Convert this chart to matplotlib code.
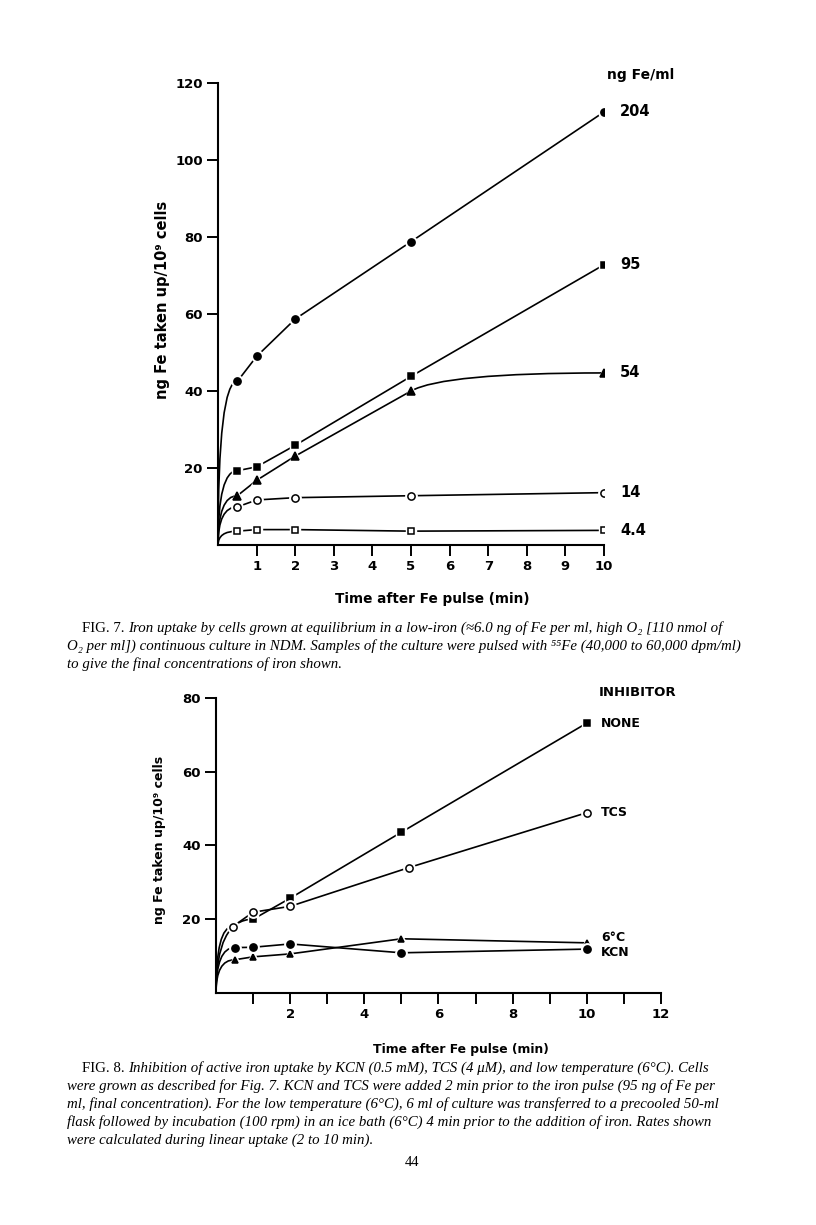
import matplotlib
matplotlib.use("Agg")
import matplotlib.pyplot as plt
from matplotlib.path import Path
from matplotlib.patches import PathPatch

# ---- Fig. 7 data: iron uptake at different pulse concentrations ----
fig7_time = [0.5, 1, 2, 5, 10]
fig7_labels = ["204", "95", "54", "14", "4.4"]
fe_204 = [42.5, 49.0, 58.7, 78.8, 112.5]
fe_95 = [19.3, 20.3, 25.9, 43.8, 72.8]
fe_54 = [12.8, 16.8, 23.1, 40.0, 44.7]
fe_14 = [9.9, 11.7, 12.3, 12.8, 13.6]
fe_4_4 = [3.6, 4.0, 4.0, 3.6, 3.8]

# ---- Fig. 8 data: inhibitors ----
none_time = [1, 2, 5, 10]
none_vals = [20.0, 25.7, 43.6, 73.2]
tcs_time = [0.45, 1, 2, 5.2, 10]
tcs_vals = [18.0, 21.9, 23.5, 34.0, 48.9]
cold_time = [0.5, 1, 2, 5, 10]
cold_vals = [9.0, 9.8, 10.6, 14.7, 13.6]
kcn_time = [0.5, 1, 2, 5, 10]
kcn_vals = [12.3, 12.4, 13.3, 10.9, 11.9]

BOLD = dict(family="DejaVu Sans", fontweight="bold")
SERIF = ["Liberation Serif", "DejaVu Serif"]


def draw_series(ax, x, y, marker, filled, ms=5, smooth_end=False):
    # hand drawn look: curve from the origin up to the first point
    verts = [(0, 0), (0, y[0]), (x[0], y[0])]
    codes = [Path.MOVETO, Path.CURVE3, Path.CURVE3]
    n = len(x)
    last = n - 1 if smooth_end else n
    for i in range(1, last):
        verts.append((x[i], y[i]))
        codes.append(Path.LINETO)
    if smooth_end:
        slope = (y[-2] - y[-3]) / (x[-2] - x[-3])
        cx = x[-2] + (y[-1] - y[-2]) / slope
        verts += [(cx, y[-1]), (x[-1], y[-1])]
        codes += [Path.CURVE3, Path.CURVE3]
    ax.add_patch(PathPatch(Path(verts, codes), fill=False, lw=1.2, color="black"))
    ax.plot(x, y, ls="none", marker=marker, ms=ms + 3, mfc="white", mec="white")
    ax.plot(x, y, ls="none", marker=marker, ms=ms,
            mfc="black" if filled else "white", mec="black", mew=1.1)


def style_axes(ax, fs):
    for s in ["top", "right"]:
        ax.spines[s].set_visible(False)
    for s in ["left", "bottom"]:
        ax.spines[s].set_linewidth(1.5)
    ax.tick_params(which="both", direction="out", length=8, width=1.4, pad=3)
    for lab in ax.get_xticklabels() + ax.get_yticklabels():
        lab.set_fontweight("bold")
        lab.set_fontsize(fs)


fig = plt.figure(figsize=(8.16, 12.25), dpi=100)

# ---------------- Fig. 7 ----------------
ax1 = fig.add_axes([0.2672, 0.5551, 0.4730, 0.3771])
ax1.set_xlim(0, 10)
ax1.set_ylim(0, 120)
series7 = [(fe_204, "o", True), (fe_95, "s", True), (fe_54, "^", True),
           (fe_14, "o", False), (fe_4_4, "s", False)]
for (vals, mk, filled), lab in zip(series7, fig7_labels):
    draw_series(ax1, fig7_time, vals, mk, filled,
                ms=4.5 if mk == "s" else 5.2, smooth_end=(lab == "54"))
    ax1.annotate(lab, (fig7_time[-1], vals[-1]), xytext=(16, 0),
                 textcoords="offset pixels", va="center", ha="left",
                 fontsize=10.5, annotation_clip=False, **BOLD)
ax1.set_xticks(range(1, 11))
ax1.set_yticks(range(20, 121, 20))
style_axes(ax1, 9.5)
fig.text(607 / 816, 1 - 75 / 1225, "ng Fe/ml", fontsize=10, va="center", ha="left", **BOLD)
fig.text(162 / 816, 1 - 300 / 1225, "ng Fe taken up/10\u2079 cells", rotation=90,
         fontsize=10.5, va="center", ha="center", **BOLD)
fig.text(432 / 816, 1 - 599 / 1225, "Time after Fe pulse (min)",
         fontsize=9.8, va="center", ha="center", **BOLD)

# ---------------- Fig. 8 ----------------
ax2 = fig.add_axes([0.2647, 0.1894, 0.5453, 0.2408])
ax2.set_xlim(0, 12)
ax2.set_ylim(0, 80)
draw_series(ax2, none_time, none_vals, "s", True, ms=4.5)
draw_series(ax2, tcs_time, tcs_vals, "o", False, ms=5.2)
draw_series(ax2, cold_time, cold_vals, "^", True, ms=5)
draw_series(ax2, kcn_time, kcn_vals, "o", True, ms=5.2)
for t, v, lab, dy in [(none_time, none_vals, "NONE", 0), (tcs_time, tcs_vals, "TCS", 0),
                      (cold_time, cold_vals, "6°C", 5), (kcn_time, kcn_vals, "KCN", -3)]:
    ax2.annotate(lab, (t[-1], v[-1]), xytext=(14, dy), textcoords="offset pixels",
                 va="center", ha="left", fontsize=9, annotation_clip=False, **BOLD)
ax2.set_xticks(range(1, 13))
ax2.set_xticklabels([str(i) if i % 2 == 0 else "" for i in range(1, 13)])
ax2.set_yticks(range(20, 81, 20))
style_axes(ax2, 9.5)
fig.text(599 / 816, 1 - 693 / 1225, "INHIBITOR", fontsize=9.5, va="center", ha="left", **BOLD)
fig.text(160 / 816, 1 - 840 / 1225, "ng Fe taken up/10\u2079 cells", rotation=90,
         fontsize=9, va="center", ha="center", **BOLD)
fig.text(461 / 816, 1 - 1049 / 1225, "Time after Fe pulse (min)",
         fontsize=8.9, va="center", ha="center", **BOLD)

# ---------------- captions ----------------
cap7 = [
    "Iron uptake by cells grown at equilibrium in a low-iron (\u22486.0 ng of Fe per ml, high O\u2082 [110 nmol of",
    "O\u2082 per ml]) continuous culture in NDM. Samples of the culture were pulsed with \u2075\u2075Fe (40,000 to 60,000 dpm/ml)",
    "to give the final concentrations of iron shown.",
]
cap8 = [
    "Inhibition of active iron uptake by KCN (0.5 mM), TCS (4 \u03bcM), and low temperature (6\u00b0C). Cells",
    "were grown as described for Fig. 7. KCN and TCS were added 2 min prior to the iron pulse (95 ng of Fe per",
    "ml, final concentration). For the low temperature (6\u00b0C), 6 ml of culture was transferred to a precooled 50-ml",
    "flask followed by incubation (100 rpm) in an ice bath (6\u00b0C) 4 min prior to the addition of iron. Rates shown",
    "were calculated during linear uptake (2 to 10 min).",
]


def caption(tag, lines, y0):
    fs = 10.7
    fig.text(82 / 816, 1 - y0 / 1225, tag, family=SERIF, fontsize=fs, va="center")
    for i, line in enumerate(lines):
        x = 128 if i == 0 else 67
        fig.text(x / 816, 1 - (y0 + 18 * i) / 1225, line, family=SERIF, style="italic",
                 fontsize=fs, va="center")


caption("FIG. 7.", cap7, 628)
caption("FIG. 8.", cap8, 1068)
fig.text(412 / 816, 1 - 1163 / 1225, "44", family=SERIF, fontsize=10.5, va="center", ha="center")

fig.savefig("out.png", dpi=100)
